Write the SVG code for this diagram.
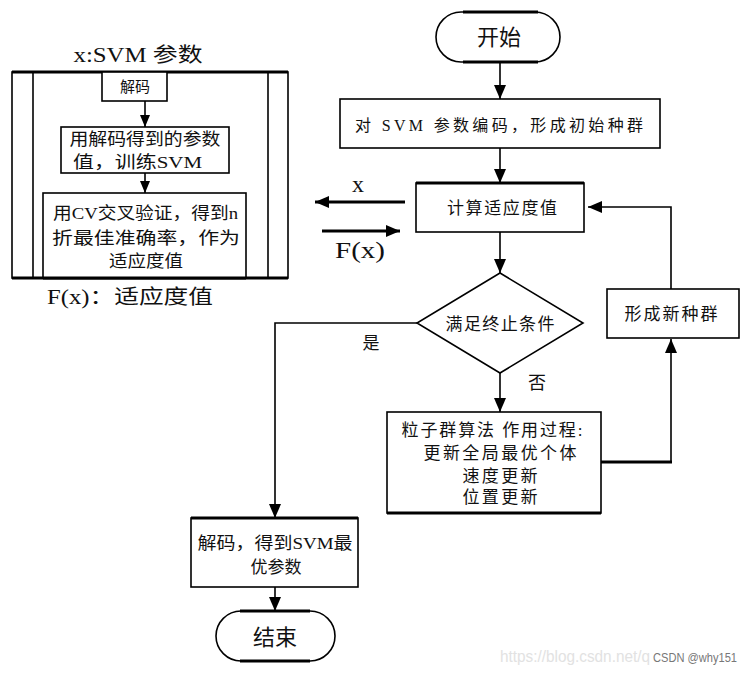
<svg xmlns="http://www.w3.org/2000/svg" width="752" height="675" viewBox="0 0 752 675">
<style>
.box{fill:#fff;stroke:#000;stroke-width:1.6}
.t{font-family:"Liberation Serif","Noto Sans CJK SC",serif;fill:#111;text-anchor:middle;dominant-baseline:central}
.s{text-anchor:start}
.ln{fill:none;stroke:#000;stroke-width:1.6}
.thick{fill:none;stroke:#000;stroke-width:3.2}
</style>
<defs>
<marker id="ah" viewBox="0 0 14 12" markerWidth="14" markerHeight="12" refX="14" refY="6" orient="auto" markerUnits="userSpaceOnUse"><path d="M0,0 L14,6 L0,12 z" fill="#000"/></marker>
<marker id="ahs" viewBox="0 0 12 10" markerWidth="12" markerHeight="10" refX="12" refY="5" orient="auto" markerUnits="userSpaceOnUse"><path d="M0,0 L12,5 L0,10 z" fill="#000"/></marker>
</defs>
<rect width="752" height="675" fill="#fff"/>

<g id="left-panel">
  <text class="t" x="138" y="55" font-size="20" textLength="129" lengthAdjust="spacingAndGlyphs">x:SVM 参数</text>
  <rect class="box" x="12" y="72" width="276" height="206"/>
  <line class="thick" x1="12" y1="72" x2="288" y2="72"/>
  <line class="thick" x1="12" y1="278" x2="288" y2="278"/>
  <line class="ln" x1="33" y1="72" x2="33" y2="278"/>
  <line class="ln" x1="268" y1="72" x2="268" y2="278"/>
  <g id="decode1">
    <rect class="box" x="102" y="72" width="65" height="29"/>
    <text class="t" x="135" y="87" font-size="15">解码</text>
  </g>
  <g id="train">
    <rect class="box" x="61" y="127" width="168" height="46"/>
    <text class="t" x="145" y="139" font-size="17" textLength="151" lengthAdjust="spacingAndGlyphs">用解码得到的参数</text>
    <text class="t s" x="73" y="162" font-size="17" textLength="129" lengthAdjust="spacingAndGlyphs">值，训练SVM</text>
  </g>
  <g id="cv">
    <rect class="box" x="43" y="193" width="203" height="85"/>
    <text class="t s" x="53" y="213" font-size="17" textLength="185" lengthAdjust="spacingAndGlyphs">用CV交叉验证，得到n</text>
    <text class="t s" x="52" y="238" font-size="17" textLength="188" lengthAdjust="spacingAndGlyphs">折最佳准确率，作为</text>
    <text class="t" x="146" y="261" font-size="17" textLength="74" lengthAdjust="spacingAndGlyphs">适应度值</text>
  </g>
  <line class="thick" x1="43" y1="278" x2="246" y2="278"/>
  <text class="t" x="130" y="297" font-size="20" textLength="166" lengthAdjust="spacingAndGlyphs">F(x)：适应度值</text>
</g>

<g id="start">
  <rect class="box" x="436" y="12" width="124" height="50" rx="25"/>
  <line class="thick" x1="463" y1="12" x2="538" y2="12"/>
  <line class="thick" x1="463" y1="62" x2="538" y2="62"/>
  <text class="t" x="499" y="37" font-size="22">开始</text>
</g>
<g id="encode">
  <rect class="box" x="340" y="99" width="320" height="49"/>
  <text class="t" x="499" y="125" font-size="16" textLength="288" lengthAdjust="spacing">对 SVM 参数编码，形成初始种群</text>
</g>
<g id="fitness">
  <rect class="box" x="416" y="183" width="168" height="49"/>
  <line class="thick" x1="416" y1="183" x2="584" y2="183"/>
  <text class="t" x="502" y="208" font-size="17" textLength="110" lengthAdjust="spacing">计算适应度值</text>
</g>
<g id="cond">
  <polygon class="box" points="500,273 583,323 500,373 417,323"/>
  <text class="t" x="500" y="324" font-size="17" textLength="109" lengthAdjust="spacing">满足终止条件</text>
</g>
<g id="pso">
  <rect class="box" x="387" y="412" width="214" height="101"/>
  <line class="thick" x1="387" y1="513" x2="601" y2="513"/>
  <text class="t" x="492" y="430" font-size="17" textLength="181" lengthAdjust="spacing">粒子群算法 作用过程:</text>
  <text class="t" x="500" y="453" font-size="17" textLength="153" lengthAdjust="spacing">更新全局最优个体</text>
  <text class="t" x="500" y="476" font-size="17" textLength="75" lengthAdjust="spacing">速度更新</text>
  <text class="t" x="500" y="497" font-size="17" textLength="75" lengthAdjust="spacing">位置更新</text>
</g>
<g id="newpop">
  <rect class="box" x="607" y="289" width="132" height="49"/>
  <text class="t" x="671" y="314" font-size="17" textLength="93" lengthAdjust="spacing">形成新种群</text>
</g>
<g id="decode2">
  <rect class="box" x="191" y="518" width="167" height="69"/>
  <line class="thick" x1="191" y1="518" x2="358" y2="518"/>
  <text class="t" x="275" y="543" font-size="17" textLength="155" lengthAdjust="spacingAndGlyphs">解码，得到SVM最</text>
  <text class="t" x="276" y="567" font-size="17">优参数</text>
</g>
<g id="end">
  <rect class="box" x="216" y="611" width="119" height="50" rx="25"/>
  <line class="thick" x1="240" y1="611" x2="310" y2="611"/>
  <line class="thick" x1="240" y1="661" x2="310" y2="661"/>
  <text class="t" x="275" y="637" font-size="22">结束</text>
</g>

<g id="connectors">
  <line class="ln" x1="500" y1="62" x2="500" y2="99" marker-end="url(#ah)"/>
  <line class="ln" x1="500" y1="148" x2="500" y2="183" marker-end="url(#ah)"/>
  <line class="ln" x1="500" y1="232" x2="500" y2="273" marker-end="url(#ah)"/>
  <line class="ln" x1="500" y1="373" x2="500" y2="412" marker-end="url(#ah)"/>
  <polyline class="ln" points="417,323 275,323 275,518" marker-end="url(#ah)"/>
  <line class="thick" x1="601" y1="462" x2="672" y2="462"/>
  <line class="ln" x1="671" y1="462" x2="671" y2="339" marker-end="url(#ah)"/>
  <polyline class="ln" points="671,289 671,207 588,207" marker-end="url(#ah)"/>
  <line class="ln" x1="275" y1="587" x2="275" y2="611" marker-end="url(#ah)"/>
  <line class="thick" x1="405" y1="202" x2="315" y2="202" marker-end="url(#ah)"/>
  <line class="thick" x1="322" y1="231" x2="400" y2="231" marker-end="url(#ah)"/>
  <line class="ln" x1="145" y1="101" x2="145" y2="127" marker-end="url(#ahs)"/>
  <line class="ln" x1="145" y1="173" x2="145" y2="193" marker-end="url(#ahs)"/>
  <text class="t" x="358" y="184" font-size="24">x</text>
  <text class="t" x="360" y="250" font-size="24" textLength="50" lengthAdjust="spacingAndGlyphs">F(x)</text>
  <text class="t" x="371" y="343" font-size="17">是</text>
  <text class="t" x="537" y="383" font-size="18">否</text>
</g>

<g id="watermark">
  <text x="500" y="662" font-family="Liberation Sans, sans-serif" font-size="16" fill="#e2e2e2" textLength="150" lengthAdjust="spacingAndGlyphs">https://blog.csdn.net/q</text>
  <text x="653" y="662" font-family="Liberation Sans, sans-serif" font-size="12" fill="#777" textLength="84" lengthAdjust="spacingAndGlyphs">CSDN @why151</text>
</g>
</svg>
